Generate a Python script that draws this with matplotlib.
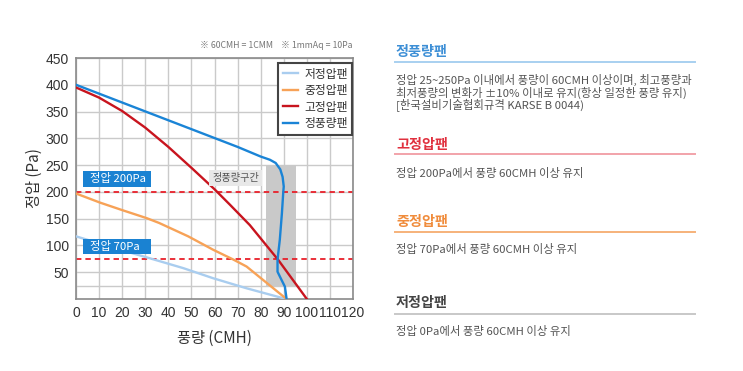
import matplotlib
matplotlib.use('Agg')
import matplotlib.pyplot as plt
from matplotlib.lines import Line2D
from matplotlib.patches import Rectangle

plt.rcParams['font.family'] = ['Noto Sans CJK KR', 'DejaVu Sans']

# curve data (x = 풍량 CMH, y = 정압 Pa)
low_x = [0, 10, 20, 32, 46.5, 59.4, 73.9, 91]
low_y = [117, 104, 91, 76, 57.6, 38.8, 20, 0]

mid_x = [0, 10.4, 20, 30.6, 36, 48.6, 59.4, 68, 73.9, 91.2]
mid_y = [197, 180, 166, 151, 142, 117, 92, 74, 60.6, 0]

high_x = [0, 10, 20, 30, 40, 50, 60, 66.7, 75.3, 87.6, 100]
high_y = [395, 376, 351, 320, 284, 245, 205, 176, 138, 73, 0]

cv_x = [0, 70, 80, 84, 86.5, 88.5, 89.5, 90, 89.8, 89.2, 88.3, 87.3, 87.3, 89, 90.5, 91.2]
cv_y = [400, 284, 266, 260, 254, 242, 228, 210, 200, 160, 111, 73, 51, 36, 23, 1]

series_names = ['저정압팬', '중정압팬', '고정압팬', '정풍량팬']
series_colors = ['#a9cdef', '#f7a257', '#c8141e', '#1a84d6']

band_x = [82.5, 95.5]
band_y = [25, 250]
ref_lines = [200, 75]

xticks = list(range(0, 130, 10))
yticks = list(range(50, 500, 50))

fig = plt.figure(figsize=(7.43, 3.71), dpi=100)
ax = fig.add_axes([76 / 743, 1 - 299 / 371, 277 / 743, 241 / 371])

ax.set_xlim(0, 120)
ax.set_ylim(0, 450)
ax.set_xticks(xticks)
ax.set_yticks(yticks)
ax.set_yticks([25], minor=True)
ax.grid(True, which='both', color='#cacaca', lw=1, zorder=0)
ax.set_axisbelow(True)
ax.tick_params(length=0, labelsize=10, labelcolor='#333333', pad=5)
ax.tick_params(which='minor', length=0)
for lab in ax.get_xticklabels() + ax.get_yticklabels():
    lab.set_family('Liberation Sans')
for s in ax.spines.values():
    s.set_color('#8a8a8a')
    s.set_linewidth(1.2)

ax.fill_betweenx(band_y, band_x[0], band_x[1], color='#c9c9c9', lw=0, zorder=1)

for y in ref_lines:
    ax.axhline(y, color='#e8202a', lw=1.3, dashes=(3, 2.2), zorder=2)

ax.plot(low_x, low_y, color=series_colors[0], lw=1.7, label=series_names[0], zorder=3)
ax.plot(mid_x, mid_y, color=series_colors[1], lw=1.7, label=series_names[1], zorder=3)
ax.plot(high_x, high_y, color=series_colors[2], lw=1.7, label=series_names[2], zorder=3)
ax.plot(cv_x, cv_y, color=series_colors[3], lw=1.7, label=series_names[3], zorder=4)

# blue tags, same width for both
for y0, h, txt in [(209.7, 29, '정압 200Pa'), (83.5, 29, '정압 70Pa')]:
    ax.add_patch(Rectangle((2.9, y0), 29.6, h, fc='#1a82d2', ec='none', zorder=5))
    ax.text(6.0, y0 + h / 2, txt, color='white', fontsize=8.2, ha='left', va='center',
            zorder=6)
ax.text(69.3, 226, '정풍량구간', color='#555555', fontsize=7.3, ha='center', va='center',
        bbox=dict(boxstyle='square,pad=0.3', fc='#e8e8e8', ec='none'), zorder=5)

leg = ax.legend(loc='upper right', bbox_to_anchor=(0.998, 0.98), borderaxespad=0,
                fontsize=8.5, handlelength=1.3, handletextpad=0.5, labelspacing=0.3,
                borderpad=0.4, fancybox=False, framealpha=1)
leg.get_frame().set_edgecolor('#444444')
leg.get_frame().set_linewidth(1.5)
for t in leg.get_texts():
    t.set_color('#333333')

ax.set_ylabel('정압 (Pa)', fontsize=11, color='#333333', labelpad=2, weight='medium')
ax.set_xlabel('풍량 (CMH)', fontsize=11, color='#333333', labelpad=7, weight='medium')

fig.text(352 / 743, 1 - 46 / 371, '※ 60CMH = 1CMM    ※ 1mmAq = 10Pa', fontsize=6.3,
         color='#777777', ha='right', va='center')

# right side description
def fy(py):
    return 1 - py / 371

sections = [
    ('정풍량팬', '#3d8fd6', '#a8d0f0', 51.7, 62.3,
     ['정압 25~250Pa 이내에서 풍량이 60CMH 이상이며, 최고풍량과',
      '최저풍량의 변화가 ±10% 이내로 유지(항상 일정한 풍량 유지)',
      '[한국설비기술협회규격 KARSE B 0044)'], 80),
    ('고정압팬', '#e0303e', '#f2a3aa', 145, 154.3, ['정압 200Pa에서 풍량 60CMH 이상 유지'], 174),
    ('중정압팬', '#f08c3c', '#f6b27a', 221.7, 232.3, ['정압 70Pa에서 풍량 60CMH 이상 유지'], 249.3),
    ('저정압팬', '#444444', '#c8c8c8', 303.3, 314, ['정압 0Pa에서 풍량 60CMH 이상 유지'], 331.7),
]
for title, tcol, lcol, ty, ly, body, by in sections:
    fig.text(396 / 743, fy(ty), title, fontsize=10.2, color=tcol, weight='bold',
             ha='left', va='center')
    fig.add_artist(Line2D([395 / 743, 695 / 743], [fy(ly), fy(ly)], color=lcol, lw=1.4))
    for i, line in enumerate(body):
        fig.text(396 / 743, fy(by + i * 12.7), line, fontsize=8.2, color='#555555',
                 ha='left', va='center')

fig.savefig('out.png', dpi=100)
